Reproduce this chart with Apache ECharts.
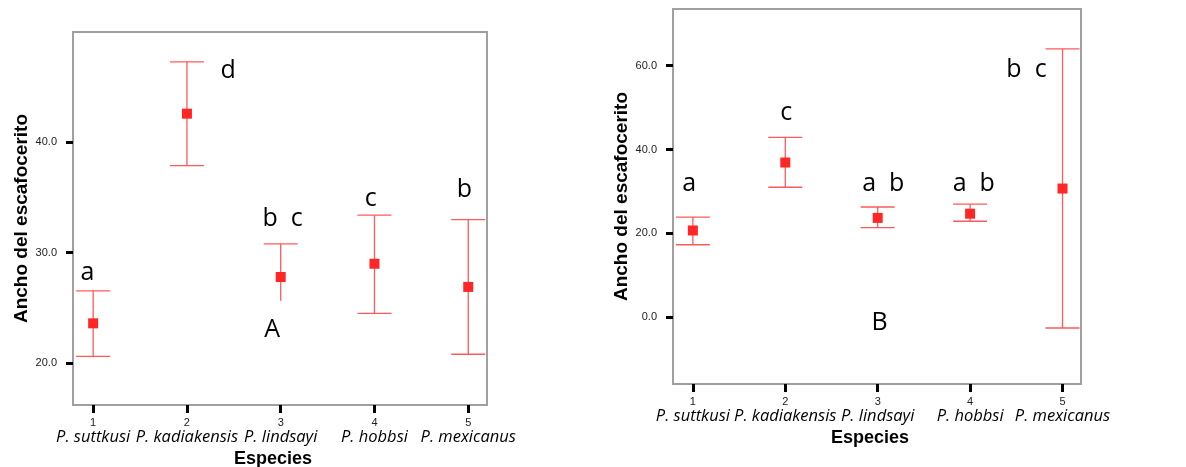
<!DOCTYPE html>
<html>
<head>
<meta charset="utf-8">
<style>
  html, body { margin: 0; padding: 0; background: #fff; }
  #chart { width: 1186px; height: 467px; }
</style>
<script src="https://cdn.jsdelivr.net/npm/echarts@6/dist/echarts.min.js"></script>
</head>
<body>
<div id="chart"></div>
<script>
// especies (eje x, 1..5)
const species = ["P. suttkusi", "P. kadiakensis", "P. lindsayi", "P. hobbsi", "P. mexicanus"];
const speciesIdx = [1, 2, 3, 4, 5];

// panel izquierdo: media y barras de error
const leftMean = [23.6, 42.6, 27.8, 29.0, 26.9];
const leftLow = [20.6, 37.9, 25.65, 24.5, 20.8];
const leftHigh = [26.55, 47.3, 30.8, 33.4, 33.0];
const leftLowCap = [1, 1, 0, 1, 1]; // la barra 3 no tiene tope inferior
const leftTicks = [20, 30, 40];
const leftLetters = [
  [0.94, 28.2, "a"],
  [2.44, 46.5, "d"],
  [3.02, 33.1, "b  c"],
  [2.91, 23.0, "A"],
  [3.96, 34.9, "c"],
  [4.96, 35.7, "b"]
];

// panel derecho
const rightMean = [20.7, 36.9, 23.7, 24.7, 30.7];
const rightLow = [17.3, 31.0, 21.4, 22.9, -2.55];
const rightHigh = [23.9, 42.9, 26.3, 27.0, 64.0];
const rightLowCap = [1, 1, 1, 1, 1];
const rightTicks = [0, 20, 40, 60];
const rightLetters = [
  [0.96, 31.7, "a"],
  [2.01, 48.8, "c"],
  [3.06, 31.7, "a  b"],
  [4.04, 31.7, "a  b"],
  [4.61, 59.0, "b  c"],
  [3.02, -1.4, "B"]
];

const chart = echarts.init(document.getElementById("chart"));

const BAR_COLOR = "#ff5a5a";
const MARK_COLOR = "#ff2626";

function xAxisFor(gridIndex, gap) {
  return {
    type: "value",
    gridIndex: gridIndex,
    min: 0.785,
    max: 5.2,
    name: "Especies",
    nameLocation: "middle",
    nameGap: gap,
    nameTextStyle: { fontFamily: "Liberation Sans", fontWeight: "bold", fontSize: 18, color: "#000", padding: [0, 14, 0, 0] },
    axisLine: { show: false, onZero: false },
    splitLine: { show: false },
    axisTick: {
      show: true, length: 8, customValues: speciesIdx,
      lineStyle: { color: "#000", width: 3 }
    },
    axisLabel: {
      margin: 12,
      customValues: speciesIdx,
      formatter: function (v) {
        return "{n|" + v + "}\n{s|" + species[v - 1] + "}";
      },
      rich: {
        n: { fontFamily: "Liberation Sans", fontSize: 11, lineHeight: 12, color: "#222" },
        s: { fontFamily: "Open Sans", fontStyle: "italic", fontSize: 16.5, lineHeight: 16, color: "#000" }
      }
    }
  };
}

function yAxisFor(gridIndex, min, max, ticks, gap) {
  return {
    type: "value",
    gridIndex: gridIndex,
    min: min,
    max: max,
    name: "Ancho del escafocerito",
    nameLocation: "middle",
    nameGap: gap,
    nameTextStyle: { fontFamily: "Liberation Sans", fontWeight: "bold", fontSize: 19, color: "#000" },
    axisLine: { show: false, onZero: false },
    splitLine: { show: false },
    axisTick: {
      show: true, length: 7, customValues: ticks,
      lineStyle: { color: "#000", width: 3 }
    },
    axisLabel: {
      margin: 16,
      customValues: ticks,
      fontFamily: "Liberation Sans",
      fontSize: 11,
      color: "#222",
      formatter: function (v) { return v.toFixed(1); }
    }
  };
}

function errorSeries(idx, low, high, lowCap) {
  return {
    type: "custom",
    xAxisIndex: idx,
    yAxisIndex: idx,
    clip: true,
    data: speciesIdx.map((x, i) => [x, low[i], high[i], lowCap[i]]),
    renderItem: function (params, api) {
      const x = api.value(0);
      const top = api.coord([x, api.value(2)]);
      const bot = api.coord([x, api.value(1)]);
      const hw = 17;
      const style = { stroke: BAR_COLOR, lineWidth: 1.3 };
      const children = [
        { type: "line", shape: { x1: top[0], y1: top[1], x2: bot[0], y2: bot[1] }, style: style },
        { type: "line", shape: { x1: top[0] - hw, y1: top[1], x2: top[0] + hw, y2: top[1] }, style: style }
      ];
      if (api.value(3)) {
        children.push({ type: "line", shape: { x1: bot[0] - hw, y1: bot[1], x2: bot[0] + hw, y2: bot[1] }, style: style });
      }
      return { type: "group", children: children };
    },
    z: 2
  };
}

function meanSeries(idx, mean) {
  return {
    type: "scatter",
    xAxisIndex: idx,
    yAxisIndex: idx,
    symbol: "rect",
    symbolSize: 10,
    itemStyle: { color: MARK_COLOR, opacity: 1 },
    data: speciesIdx.map((x, i) => [x, mean[i]]),
    z: 3
  };
}

function letterSeries(idx, letters) {
  return {
    type: "scatter",
    xAxisIndex: idx,
    yAxisIndex: idx,
    symbolSize: 0,
    silent: true,
    itemStyle: { opacity: 1 },
    data: letters,
    label: {
      show: true,
      position: "inside",
      formatter: function (p) { return p.data[2]; },
      fontFamily: "Open Sans",
      fontSize: 25,
      color: "#000",
      textBorderWidth: 0
    },
    z: 4
  };
}

const gridBase = { show: true, borderColor: "#a0a0a0", borderWidth: 2, backgroundColor: "transparent", outerBoundsMode: "none", containLabel: false };

const option = {
  animation: false,
  backgroundColor: "#fff",
  grid: [
    Object.assign({ left: 73, top: 32, width: 414, height: 373 }, gridBase),
    Object.assign({ left: 673, top: 9, width: 408, height: 375 }, gridBase)
  ],
  xAxis: [xAxisFor(0, 40), xAxisFor(1, 39)],
  yAxis: [
    yAxisFor(0, 16.2, 50, leftTicks, 41),
    yAxisFor(1, -15.9, 73.5, rightTicks, 42)
  ],
  series: [
    errorSeries(0, leftLow, leftHigh, leftLowCap),
    meanSeries(0, leftMean),
    letterSeries(0, leftLetters),
    errorSeries(1, rightLow, rightHigh, rightLowCap),
    meanSeries(1, rightMean),
    letterSeries(1, rightLetters)
  ]
};

chart.setOption(option);
</script>
</body>
</html>
